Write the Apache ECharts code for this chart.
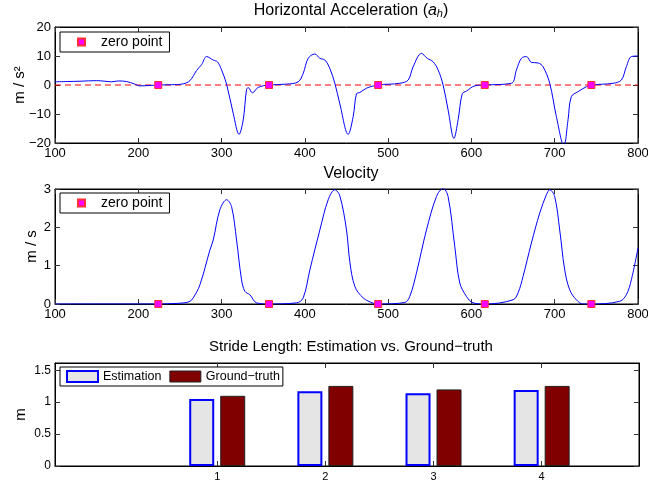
<!DOCTYPE html>
<html>
<head>
<meta charset="utf-8">
<script src="https://cdn.jsdelivr.net/npm/echarts@6/dist/echarts.min.js"></script>
<style>
  html, body { margin: 0; padding: 0; background: #fff; }
  #main { width: 648px; height: 486px; }
</style>
</head>
<body>
<div id="main"></div>
<script>
// horizontal acceleration (a_h)
var accX = [100, 115, 130, 150, 160, 168, 176, 186, 195, 202, 212, 224, 240, 254, 262, 270, 276, 282, 290, 295,
  300, 306, 314, 321, 326, 330, 332, 337, 344, 357, 378, 392, 398, 404, 412, 418, 424, 430, 436, 442,
  452, 458, 462, 466, 474, 488, 514, 524, 530, 540, 547, 554, 560, 566, 572, 579, 584, 589, 594, 604,
  616, 648, 654, 660, 666, 672, 680, 686, 694, 702, 711, 716, 720, 728, 738, 744, 770, 780, 786, 792, 800];
var accY = [1.1, 1.2, 1.3, 1.5, 1.3, 1.1, 1.4, 1.2, 0.4, -0.3, -0.2, 0, 0.1, 0.4, 1.5, 5.0, 7.0, 9.8, 8.6, 8.0,
  5.2, 0.3, -9.8, -17, -12, -1.5, -0.9, -2.7, -0.8, 0, 0.3, 1.1, 4.0, 9.2, 10.7, 9.2, 8.6, 5.7, 0.6, -6.5,
  -17, -10.9, -3.0, -2.6, -1.1, 0, 0.6, 1.7, 6.3, 10.9, 9.2, 8.0, 5.2, 0, -8.6, -18.4, -12, -3.0, -2.1, -0.3,
  0, 0.6, 5.2, 9.2, 9.8, 7.8, 7.6, 6.3, 0.6, -10.9, -21, -12, -4, -2.3, -0.6, 0, 0.6, 1.7, 6.3, 9.8, 10];

// velocity
var velX = [100, 150, 200, 224, 240, 255, 262, 266, 274, 286, 290, 298, 306, 312, 318, 324, 328, 334, 342, 357,
  390, 398, 406, 418, 428, 436, 442, 450, 454, 460, 470, 482, 488, 520, 526, 534, 546, 558, 566, 572,
  580, 586, 594, 602, 616, 650, 656, 662, 672, 682, 690, 694, 700, 706, 712, 718, 726, 734, 744, 778,
  786, 792, 800];
var velY = [0, 0, 0, 0, 0.01, 0.03, 0.07, 0.16, 0.5, 1.41, 1.67, 2.46, 2.72, 2.54, 1.67, 0.63, 0.33, 0.24, 0.03, 0,
  0.03, 0.16, 0.89, 1.93, 2.72, 2.98, 2.82, 1.93, 1.1, 0.46, 0.16, 0.02, 0, 0.04, 0.2, 0.81, 1.93, 2.8, 3.02, 2.8,
  1.5, 0.55, 0.2, 0.03, 0, 0.11, 0.29, 0.72, 1.59, 2.37, 2.85, 2.98, 2.8, 1.93, 0.89, 0.37, 0.11, 0, 0, 0.07,
  0.24, 0.63, 1.46];

// zero points
var zeroX = [224, 357, 488, 616, 744];

// stride length
var strideNo = [1, 2, 3, 4];
var estimation = [1.05, 1.17, 1.14, 1.19];
var groundTruth = [1.10, 1.255, 1.20, 1.255];

var strideTicks = [0, 0.5, 1, 1.5];

function pairs(xs, ys) {
  var out = [];
  for (var i = 0; i < xs.length; i++) {
    out.push([xs[i], ys[i]]);
  }
  return out;
}

var font = "Liberation Sans, Arial, Helvetica, sans-serif";
var minus = function (v) { return String(v).replace("-", "\u2212"); };

var myChart = echarts.init(document.getElementById("main"));

var gridBox = { show: true, borderColor: "#000", borderWidth: 1, backgroundColor: "#fff", outerBoundsMode: "none", containLabel: false };

function xAx(gridIndex, pos, showLabel, extra) {
  var a = {
    type: "value",
    gridIndex: gridIndex,
    position: pos,
    min: 100,
    max: 800,
    interval: 100,
    splitLine: { show: false },
    axisLine: { show: true, onZero: false, lineStyle: { color: "#000", width: 1 } },
    axisTick: { show: true, inside: true, length: 5, lineStyle: { color: "#333" } },
    axisLabel: { show: showLabel, color: "#000", fontSize: 13, fontFamily: font, margin: 4 }
  };
  for (var k in extra) a[k] = extra[k];
  return a;
}

function yAx(gridIndex, pos, showLabel, extra) {
  var a = {
    type: "value",
    gridIndex: gridIndex,
    position: pos,
    splitLine: { show: false },
    axisLine: { show: true, onZero: false, lineStyle: { color: "#000", width: 1 } },
    axisTick: { show: true, inside: true, length: 5, lineStyle: { color: "#333" } },
    axisLabel: { show: showLabel, color: "#000", fontSize: 13, fontFamily: font, margin: 4, formatter: minus },
    nameLocation: "middle",
    nameMoveOverlap: false,
    nameTextStyle: { color: "#000", fontSize: 15, fontFamily: font }
  };
  for (var k in extra) a[k] = extra[k];
  return a;
}

var stridex = {
  min: -0.5,
  max: 4.9,
  interval: 1,
  axisTick: { show: true, inside: true, length: 5, customValues: strideNo, lineStyle: { color: "#333" } }
};

var option = {
  animation: false,
  backgroundColor: "#fff",
  textStyle: { fontFamily: font },
  title: [
    {
      text: "{n|Horizontal Acceleration (}{i|a}{s|h}{n|)}",
      left: 346, top: -2, textAlign: "center",
      textStyle: {
        fontWeight: "normal",
        rich: {
          n: { fontSize: 16, fontWeight: "normal", color: "#000", fontFamily: font },
          i: { fontSize: 16, fontWeight: "normal", color: "#000", fontStyle: "italic", fontFamily: font },
          s: { fontSize: 11, fontWeight: "normal", color: "#000", fontStyle: "italic", fontFamily: font, padding: [5, 0, 0, 0] }
        }
      }
    },
    { text: "Velocity", left: 346, top: 161, textAlign: "center",
      textStyle: { fontSize: 16, fontWeight: "normal", color: "#000", fontFamily: font } },
    { text: "Stride Length: Estimation vs. Ground\u2212truth", left: 346, top: 334, textAlign: "center",
      textStyle: { fontSize: 15, fontWeight: "normal", color: "#000", fontFamily: font } }
  ],
  legend: [
    {
      left: 60, top: 32,
      orient: "horizontal",
      borderColor: "#000", borderWidth: 1, backgroundColor: "#fff",
      padding: [3, 7, 3, 17],
      itemWidth: 7, itemHeight: 7,
      textStyle: { fontSize: 14, color: "#000", fontFamily: font, padding: [0, 0, 0, 11] },
      data: [{ name: "zero point", icon: "rect" }],
      selectedMode: false
    },
    {
      left: 60, top: 193,
      borderColor: "#000", borderWidth: 1, backgroundColor: "#fff",
      padding: [3, 7, 3, 17],
      itemWidth: 7, itemHeight: 7,
      textStyle: { fontSize: 14, color: "#000", fontFamily: font, padding: [0, 0, 0, 11] },
      data: [{ name: "zero point", icon: "rect" }],
      selectedMode: false
    },
    {
      left: 60, top: 367,
      borderColor: "#000", borderWidth: 1, backgroundColor: "#fff",
      padding: [3, 3, 3, 6],
      itemWidth: 31, itemHeight: 11, itemGap: 8,
      textStyle: { fontSize: 12.5, color: "#000", fontFamily: font },
      data: [
        { name: "Estimation", icon: "rect", itemStyle: { color: "#e5e5e5", borderColor: "#0000ff", borderWidth: 2 } },
        { name: "Ground\u2212truth", icon: "rect", itemStyle: { color: "#800000", borderColor: "#222", borderWidth: 1 } }
      ],
      selectedMode: false
    }
  ],
  grid: [
    Object.assign({ left: 55, top: 27, width: 583, height: 116 }, gridBox),
    Object.assign({ left: 55, top: 189, width: 583, height: 115 }, gridBox),
    Object.assign({ left: 55, top: 363, width: 584, height: 103 }, gridBox)
  ],
  xAxis: [
    xAx(0, "bottom", true, {}),
    xAx(0, "top", false, {}),
    xAx(1, "bottom", true, {}),
    xAx(1, "top", false, {}),
    xAx(2, "bottom", true, Object.assign({}, stridex, {
      axisLabel: { show: true, color: "#000", fontSize: 11, fontFamily: font, margin: 5, customValues: strideNo }
    })),
    xAx(2, "top", false, stridex)
  ],
  yAxis: [
    yAx(0, "left", true, { min: -20, max: 20, interval: 10, name: "m / s\u00b2", nameGap: 28 }),
    yAx(0, "right", false, { min: -20, max: 20, interval: 10 }),
    yAx(1, "left", true, { min: 0, max: 3, interval: 1, name: "m / s", nameGap: 16 }),
    yAx(1, "right", false, { min: 0, max: 3, interval: 1 }),
    yAx(2, "left", true, {
      min: 0, max: 1.614, interval: 0.5, name: "m", nameGap: 27,
      axisLabel: { show: true, color: "#000", fontSize: 12, fontFamily: font, margin: 4, customValues: strideTicks },
      axisTick: { show: true, inside: true, length: 5, customValues: strideTicks, lineStyle: { color: "#333" } }
    }),
    yAx(2, "right", false, {
      min: 0, max: 1.614, interval: 0.5,
      axisTick: { show: true, inside: true, length: 5, customValues: strideTicks, lineStyle: { color: "#333" } }
    })
  ],
  series: [
    {
      name: "zero line",
      type: "line",
      xAxisIndex: 0, yAxisIndex: 0,
      data: [[100, 0], [800, 0]],
      symbol: "none",
      lineStyle: { color: "#ff0000", width: 1, type: [6, 4] },
      silent: true
    },
    {
      name: "acc",
      type: "line",
      xAxisIndex: 0, yAxisIndex: 0,
      data: pairs(accX, accY),
      smooth: 0.35,
      symbol: "none",
      clip: true,
      lineStyle: { color: "#0000ff", width: 1 }
    },
    {
      name: "zero point",
      type: "scatter",
      xAxisIndex: 0, yAxisIndex: 0,
      data: zeroX.map(function (x) { return [x, 0]; }),
      symbol: "rect",
      symbolSize: 7,
      itemStyle: { color: "#ff00ff", borderColor: "#ff3030", borderWidth: 1, opacity: 1 },
      z: 5
    },
    {
      name: "vel",
      type: "line",
      xAxisIndex: 2, yAxisIndex: 2,
      data: pairs(velX, velY),
      smooth: 0.35,
      symbol: "none",
      clip: true,
      lineStyle: { color: "#0000ff", width: 1 }
    },
    {
      name: "zero point",
      type: "scatter",
      xAxisIndex: 2, yAxisIndex: 2,
      data: zeroX.map(function (x) { return [x, 0]; }),
      symbol: "rect",
      symbolSize: 7,
      clip: false,
      itemStyle: { color: "#ff00ff", borderColor: "#ff3030", borderWidth: 1, opacity: 1 },
      z: 5
    },
    {
      name: "Estimation",
      type: "bar",
      xAxisIndex: 4, yAxisIndex: 4,
      data: pairs(strideNo, estimation),
      barWidth: 25,
      barGap: "24%",
      itemStyle: { color: "#e5e5e5", borderColor: "#0000ff", borderWidth: 2 }
    },
    {
      name: "Ground\u2212truth",
      type: "bar",
      xAxisIndex: 4, yAxisIndex: 4,
      data: pairs(strideNo, groundTruth),
      barWidth: 25,
      barGap: "24%",
      itemStyle: { color: "#800000", borderColor: "#222", borderWidth: 1 }
    }
  ]
};

myChart.setOption(option);
</script>
</body>
</html>
